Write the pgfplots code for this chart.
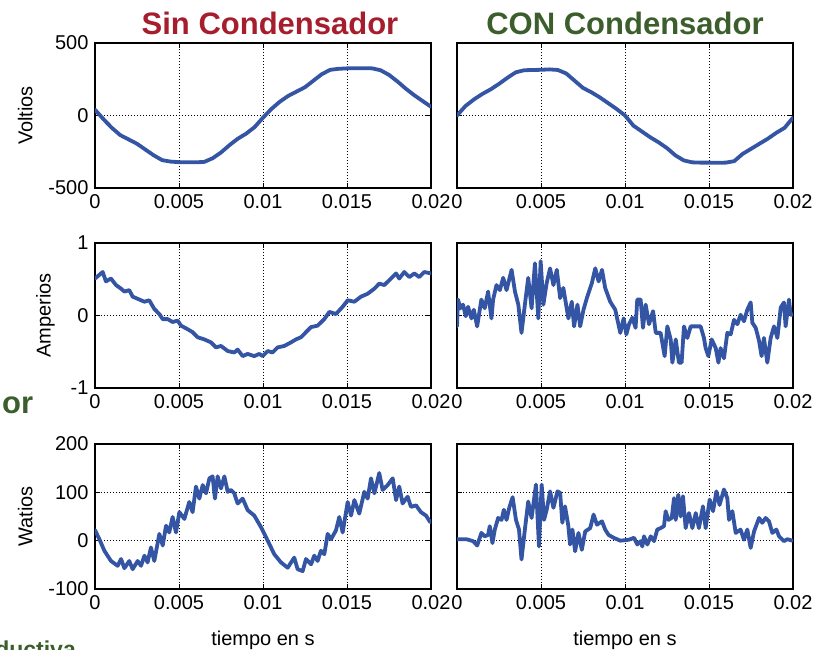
\documentclass[border=0pt]{standalone}
\usepackage{pgfplots}
\pgfplotsset{compat=1.18}
\usepackage{fontspec}
\setmainfont{Liberation Sans}

\definecolor{sinred}{RGB}{166,30,45}
\definecolor{congreen}{RGB}{60,94,44}
\definecolor{trace}{RGB}{52,84,164}

\pgfplotsset{
  panel/.style={
    scale only axis, width=336pt, height=145pt, anchor=south west,
    xmin=0, xmax=20,
    xtick={0,5,10,15,20},
    xticklabels={0,0.005,0.01,0.015,0.02},
    grid=major,
    major grid style={black, line width=0.8pt, dash pattern=on 1.2pt off 1.8pt},
    tick align=inside, major tick length=5pt,
    tick style={black, line width=0.8pt},
    axis line style={black, line width=1.3pt},
    ticklabel style={font=\fontsize{20}{24}\selectfont},
    label style={font=\fontsize{20}{24}\selectfont},
    xticklabel style={yshift=-3pt},
    yticklabel style={xshift=-3pt},
    ylabel shift=9pt, xlabel shift=14pt,
  },
  sig/.style={trace, line width=3.8pt, line join=round, line cap=round, mark=none},
  vrow/.style={ymin=-500, ymax=500, ytick={-500,0,500}},
  arow/.style={ymin=-1, ymax=1, ytick={-1,0,1}},
  wrow/.style={ymin=-100, ymax=200, ytick={-100,0,100,200}},
}

\begin{document}
\begin{tikzpicture}

% ---- row 1: tension
\begin{axis}[panel, vrow, at={(95pt,461pt)}, yticklabels={-500,0,500}, ylabel={Voltios}]
\addplot[sig] coordinates {
(0,40) (0.5,-25) (1,-85) (1.5,-135) (2,-165) (2.5,-195) (3,-235) (3.5,-275)
(4,-308) (4.5,-318) (5,-322) (5.5,-323) (6,-323) (6.5,-320) (7,-295) (7.5,-255)
(8,-205) (8.5,-160) (9,-125) (9.5,-80) (10,-15) (10.5,45) (11,95) (11.5,135)
(12,165) (12.5,195) (13,240) (13.5,285) (14,315) (14.5,322) (15,325) (15.5,326)
(16,326) (16.5,325) (17,312) (17.5,280) (18,235) (18.5,185) (19,140) (19.5,100) (20,60)
};
\end{axis}

\begin{axis}[panel, vrow, at={(457pt,461pt)}, yticklabels={}]
\addplot[sig] coordinates {
(0,0) (0.5,65) (1,110) (1.5,148) (2,180) (2.5,218) (3,260) (3.5,298)
(4,312) (4.5,314) (5,315) (5.5,318) (6,314) (6.5,290) (7,240) (7.5,190)
(8,160) (8.5,125) (9,85) (9.5,45) (10,0) (10.5,-70) (11,-110) (11.5,-150)
(12,-185) (12.5,-225) (13,-275) (13.5,-310) (14,-323) (14.5,-325) (15,-325) (15.5,-326)
(16,-325) (16.5,-315) (17,-265) (17.5,-230) (18,-195) (18.5,-160) (19,-120) (19.5,-85) (20,-15)
};
\end{axis}

% ---- row 2: corriente
\begin{axis}[panel, arow, at={(95pt,261pt)}, yticklabels={-1,0,1}, ylabel={Amperios}]
\addplot[sig] coordinates {
(0,0.51) (0.46,0.60) (0.65,0.47) (0.95,0.51) (1.25,0.42) (1.55,0.37) (1.75,0.33)
(2.04,0.35) (2.24,0.26) (2.54,0.23) (2.94,0.19) (3.23,0.21) (3.53,0.09) (3.83,0.02)
(4.03,-0.05) (4.33,-0.05) (4.62,-0.09) (4.92,-0.07) (5.12,-0.14) (5.52,-0.19)
(5.81,-0.23) (6.11,-0.30) (6.51,-0.33) (6.90,-0.37) (7.20,-0.44) (7.50,-0.42)
(7.90,-0.49) (8.29,-0.51) (8.49,-0.47) (8.79,-0.56) (9.09,-0.53) (9.48,-0.56)
(9.78,-0.53) (9.98,-0.56) (10.28,-0.49) (10.57,-0.51) (10.87,-0.44) (11.27,-0.42)
(11.67,-0.37) (11.96,-0.33) (12.26,-0.30) (12.56,-0.23) (12.86,-0.16) (13.25,-0.14)
(13.65,-0.05) (13.95,0.05) (14.34,0.02) (14.74,0.12) (15.04,0.21) (15.44,0.19)
(15.83,0.26) (16.23,0.30) (16.63,0.37) (16.92,0.44) (17.22,0.42) (17.62,0.51)
(17.92,0.58) (18.11,0.51) (18.41,0.60) (18.71,0.53) (19.01,0.58) (19.30,0.53)
(19.60,0.60) (20,0.58)
};
\end{axis}

\begin{axis}[panel, arow, at={(457pt,261pt)}, yticklabels={}]
\addplot[sig] coordinates {
(0,-0.15) (0.06,0.22) (0.20,0.10) (0.36,0.15) (0.52,-0.01) (0.66,0.12) (0.86,-0.04)
(1.00,0.08) (1.20,-0.15) (1.45,0.22) (1.65,0.10) (1.85,0.33) (2.05,-0.04) (2.15,0.22)
(2.35,0.42) (2.55,0.35) (2.75,0.52) (2.95,0.35) (3.25,0.63) (3.45,0.33) (3.65,0.15)
(3.84,-0.24) (4.04,0.15) (4.24,0.52) (4.44,0.10) (4.64,0.72) (4.84,-0.04) (4.98,0.75)
(5.14,0.15) (5.34,0.45) (5.54,0.65) (5.74,0.42) (5.94,0.63) (6.14,0.24) (6.33,0.38)
(6.63,-0.04) (6.83,0.19) (6.97,-0.15) (7.17,0.15) (7.33,-0.15) (7.53,0.08) (7.73,0.24)
(8.03,0.45) (8.23,0.65) (8.43,0.47) (8.63,0.63) (8.82,0.38) (9.12,0.19) (9.42,0.08)
(9.72,-0.24) (9.92,-0.04) (10.08,-0.26) (10.24,-0.12) (10.44,-0.03) (10.63,-0.17)
(10.73,0.22) (10.93,0.22) (11.07,-0.17) (11.23,0.15) (11.43,-0.12) (11.67,0.06)
(11.83,-0.24) (12.12,-0.24) (12.36,-0.56) (12.52,-0.15) (12.72,-0.33) (12.82,-0.65)
(13.02,-0.33) (13.21,-0.65) (13.37,-0.65) (13.51,-0.15) (13.71,-0.31) (13.91,-0.15)
(14.21,-0.15) (14.50,-0.15) (14.70,-0.31) (14.80,-0.45) (14.96,-0.56) (15.16,-0.33)
(15.40,-0.45) (15.56,-0.65) (15.69,-0.45) (15.89,-0.59) (16.09,-0.24) (16.29,-0.26)
(16.49,-0.06) (16.69,-0.12) (16.88,0.01) (17.08,-0.08) (17.28,0.08) (17.48,0.18)
(17.58,-0.10) (17.78,-0.17) (17.98,-0.35) (18.13,-0.56) (18.27,-0.31) (18.47,-0.65)
(18.67,-0.31) (18.87,-0.15) (19.07,-0.31) (19.27,0.11) (19.46,0.18) (19.56,-0.15)
(19.76,0.22) (19.86,0.01) (20,0.01)
};
\end{axis}

% ---- row 3: potencia
\begin{axis}[panel, wrow, at={(95pt,60pt)}, yticklabels={-100,0,100,200}, ylabel={Watios}, xlabel={tiempo en s}]
\addplot[sig] coordinates {
(0,22) (0.26,3) (0.56,-21) (0.95,-42) (1.35,-52) (1.55,-38) (1.75,-57) (2.04,-42)
(2.24,-59) (2.54,-42) (2.74,-52) (2.94,-31) (3.13,-45) (3.33,-14) (3.53,-42) (3.83,14)
(4.03,-10) (4.23,31) (4.42,17) (4.62,49) (4.82,17) (5.02,59) (5.32,45) (5.61,80)
(5.81,59) (6.01,112) (6.21,87) (6.41,115) (6.61,98) (6.81,129) (7.00,133) (7.14,87)
(7.30,133) (7.50,108) (7.70,133) (7.90,101) (8.09,105) (8.29,98) (8.49,77) (8.79,87)
(9.09,63) (9.48,52) (9.88,28) (10.28,0) (10.67,-28) (11.07,-45) (11.47,-56) (11.86,-35)
(12.06,-59) (12.36,-63) (12.56,-38) (12.86,-49) (13.05,-31) (13.25,-42) (13.45,-21)
(13.65,-28) (13.85,14) (14.05,3) (14.34,21) (14.54,49) (14.74,17) (15.04,80) (15.24,52)
(15.44,84) (15.73,56) (16.03,101) (16.23,87) (16.43,129) (16.63,98) (16.92,140)
(17.12,105) (17.42,115) (17.72,129) (17.92,84) (18.11,112) (18.31,77) (18.61,91)
(18.81,70) (19.11,73) (19.40,59) (19.70,52) (19.96,38)
};
\end{axis}

\begin{axis}[panel, wrow, at={(457pt,60pt)}, yticklabels={}, xlabel={tiempo en s}]
\addplot[sig] coordinates {
(0,3) (0.56,3) (0.96,-1) (1.20,-10) (1.45,16) (1.65,9) (1.85,12) (1.95,30) (2.11,-5)
(2.25,23) (2.45,47) (2.65,43) (2.79,64) (2.95,43) (3.11,68) (3.31,90) (3.51,43)
(3.69,23) (3.84,-39) (4.04,23) (4.24,81) (4.44,47) (4.70,116) (4.88,-12) (5.04,116)
(5.18,43) (5.34,64) (5.54,102) (5.74,68) (5.98,102) (6.14,99) (6.27,37) (6.43,71)
(6.63,30) (6.73,-8) (6.87,23) (7.03,-22) (7.23,16) (7.43,-19) (7.63,19) (7.93,26)
(8.13,54) (8.33,33) (8.63,40) (8.82,23) (9.02,12) (9.32,6) (9.72,0) (10.0,1)
(10.24,2) (10.54,6) (10.73,-8) (10.93,-1) (11.03,-12) (11.13,9) (11.33,-8) (11.53,9)
(11.73,-1) (11.92,23) (12.12,26) (12.32,30) (12.42,61) (12.58,43) (12.78,47) (12.92,88)
(13.02,43) (13.17,95) (13.31,50) (13.45,92) (13.61,26) (13.81,57) (14.01,26) (14.21,57)
(14.40,26) (14.64,71) (14.80,26) (15.04,85) (15.24,61) (15.44,102) (15.63,74)
(15.89,106) (16.09,88) (16.19,43) (16.39,61) (16.59,16) (16.88,23) (17.08,2) (17.28,23)
(17.48,-15) (17.68,19) (17.98,47) (18.17,37) (18.37,47) (18.57,40) (18.77,16)
(19.01,23) (19.17,9) (19.46,-1) (19.66,3) (19.96,0)
};
\end{axis}

% titles and stray slide text
\node[font=\fontsize{31}{36}\selectfont\bfseries, text=sinred, anchor=base] at (270pt,614pt) {Sin Condensador};
\node[font=\fontsize{31}{36}\selectfont\bfseries, text=congreen, anchor=base] at (625pt,614pt) {CON Condensador};
\node[font=\fontsize{31}{36}\selectfont\bfseries, text=congreen, anchor=base west, inner sep=0pt] at (2pt,235pt) {or};
\node[font=\fontsize{23}{28}\selectfont\bfseries, text=congreen, anchor=base east, inner sep=0pt] at (76pt,-8pt) {Inductiva};

\pgfresetboundingbox
\path[use as bounding box] (0pt,0pt) rectangle (831pt,649pt);
\end{tikzpicture}
\end{document}
